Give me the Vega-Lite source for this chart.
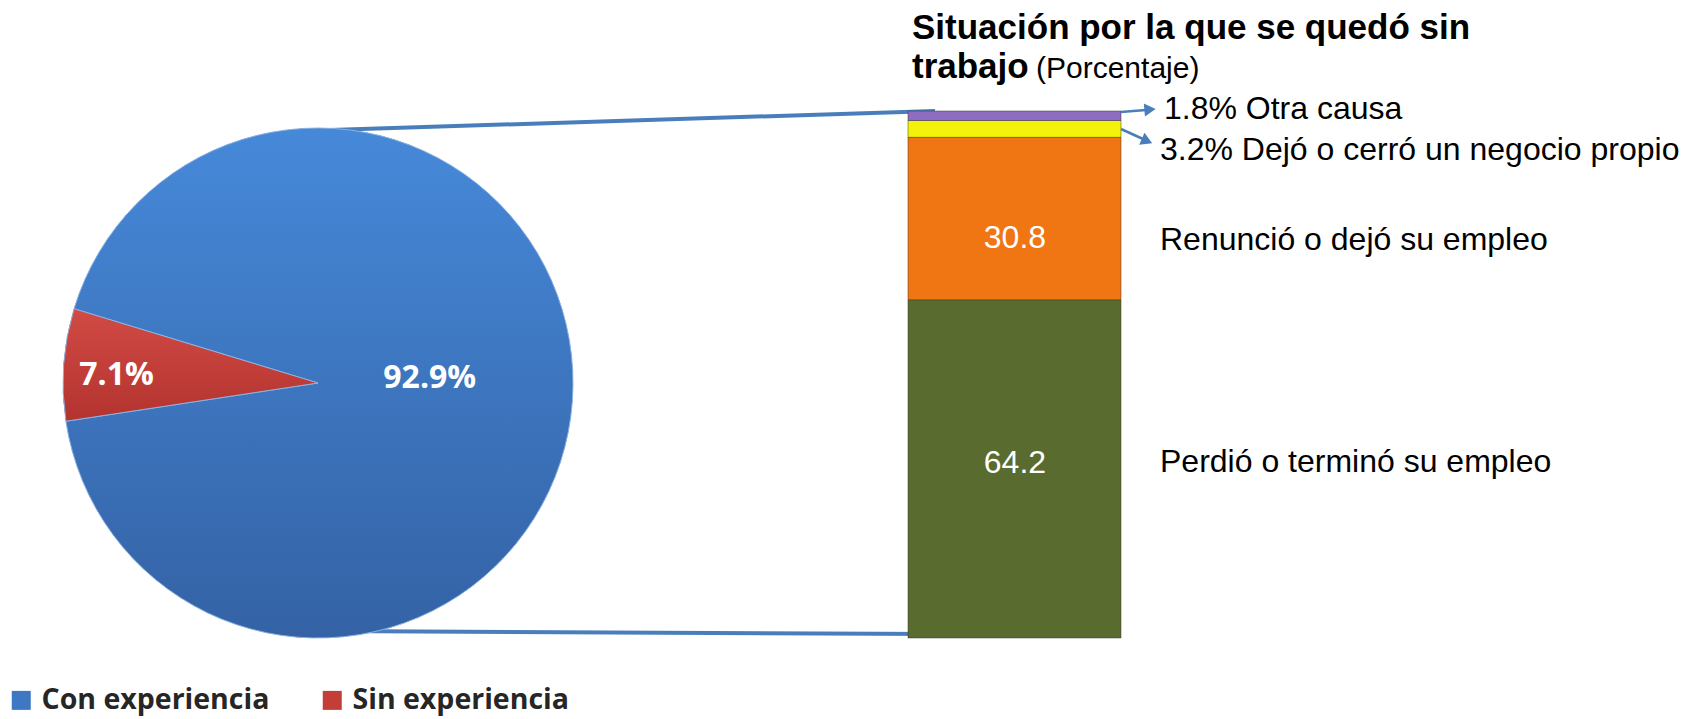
{
"$schema":"https://vega.github.io/schema/vega-lite/v6.json",
"width":1695,"height":719,"autosize":"none","padding":0,"background":"#ffffff",
"config":{"view":{"stroke":null}},
"datasets":{
 "pie":[
  {"condicion":"Con experiencia","pct":92.9,"etiqueta":"92.9%"},
  {"condicion":"Sin experiencia","pct":7.1,"etiqueta":"7.1%"}
 ],
 "causas":[
  {"causa":"Perdió o terminó su empleo","pct":64.2,"etiqueta":"Perdió o terminó su empleo"},
  {"causa":"Renunció o dejó su empleo","pct":30.8,"etiqueta":"Renunció o dejó su empleo"},
  {"causa":"Dejó o cerró un negocio propio","pct":3.2,"etiqueta":"3.2% Dejó o cerró un negocio propio"},
  {"causa":"Otra causa","pct":1.8,"etiqueta":"1.8% Otra causa"}
 ]
},
"layer":[
 {"data":{"values":[{}]},"mark":{"type":"rule","color":"#4A7EBB","strokeWidth":4},
  "encoding":{"x":{"datum":19.469,"type":"quantitative","scale":{"domain":[0,100],"nice":false,"zero":false},"axis":null},
   "y":{"datum":96.395,"type":"quantitative","scale":{"domain":[-15.37,121.063],"nice":false,"zero":false},"axis":null},
   "x2":{"datum":55.162},"y2":{"datum":100.0}}},
 {"data":{"values":[{}]},"mark":{"type":"rule","color":"#4A7EBB","strokeWidth":4},
  "encoding":{"x":{"datum":19.469,"type":"quantitative","scale":{"domain":[0,100],"nice":false,"zero":false},"axis":null},
   "y":{"datum":1.329,"type":"quantitative","scale":{"domain":[-15.37,121.063],"nice":false,"zero":false},"axis":null},
   "x2":{"datum":55.162},"y2":{"datum":0.759}}},
 {"data":{"name":"pie"},"mark":{"type":"arc","outerRadius":255},
  "encoding":{
   "x":{"datum":18.761,"type":"quantitative","scale":{"domain":[0,100],"nice":false,"zero":false},"axis":null},
   "y":{"datum":48.387,"type":"quantitative","scale":{"domain":[-15.37,121.063],"nice":false,"zero":false},"axis":null},
   "theta":{"field":"pct","type":"quantitative","stack":true,"scale":{"domain":[0,100],"range":[4.5618,10.845]}},
   "order":{"field":"pct","type":"quantitative","sort":"ascending"},
   "color":{"field":"condicion","type":"nominal","scale":{"domain":["Con experiencia","Sin experiencia"],"range":["#3E78C2","#C43E38"]},
    "legend":{"orient":"none","legendX":7,"legendY":686,"direction":"horizontal","title":null,"symbolType":"square","symbolSize":361,"symbolStrokeWidth":0,"labelFont":"Open Sans","labelFontWeight":"bold","labelFontSize":28.5,"labelColor":"#262626","columnPadding":48,"labelOffset":6,"labelLimit":0}}
  }},
 {"data":{"name":"pie"},"mark":{"type":"arc","outerRadius":255,"stroke":"#8DB3E2","strokeWidth":1},
  "encoding":{
   "x":{"datum":18.761,"type":"quantitative","scale":{"domain":[0,100],"nice":false,"zero":false},"axis":null},
   "y":{"datum":48.387,"type":"quantitative","scale":{"domain":[-15.37,121.063],"nice":false,"zero":false},"axis":null},
   "theta":{"field":"pct","type":"quantitative","stack":true,"scale":{"domain":[0,100],"range":[4.5618,10.845]}},
   "order":{"field":"pct","type":"quantitative","sort":"ascending"},
   "detail":{"field":"condicion"},
   "fill":{"condition":{"test":"datum.condicion === 'Sin experiencia'","value":{"gradient":"linear","x1":0,"y1":0,"x2":0,"y2":1,"stops":[{"offset":0,"color":"#D24B45"},{"offset":1,"color":"#B3332E"}]}},
    "value":{"gradient":"linear","x1":0,"y1":0,"x2":0,"y2":1,"stops":[{"offset":0,"color":"#4689D9"},{"offset":1,"color":"#3462A5"}]}}
  }},
 {"data":{"name":"pie"},"mark":{"type":"text","radius":202,"dy":7,"font":"Open Sans","fontWeight":"bold","fontSize":32,"color":"#ffffff","align":"center","baseline":"middle"},
  "encoding":{
   "x":{"datum":18.761,"type":"quantitative","scale":{"domain":[0,100],"nice":false,"zero":false},"axis":null},
   "y":{"datum":48.387,"type":"quantitative","scale":{"domain":[-15.37,121.063],"nice":false,"zero":false},"axis":null},
   "theta":{"field":"pct","type":"quantitative","stack":true,"scale":{"domain":[0,100],"range":[4.5618,10.845]}},
   "order":{"field":"pct","type":"quantitative","sort":"ascending"},
   "detail":{"field":"condicion"},
   "text":{"field":"etiqueta"},
   "opacity":{"condition":{"test":"datum.condicion === 'Sin experiencia'","value":1},"value":0}
  }},
 {"data":{"name":"pie"},"mark":{"type":"text","radius":112,"dy":-13,"font":"Open Sans","fontWeight":"bold","fontSize":32,"color":"#ffffff","align":"center","baseline":"middle"},
  "encoding":{
   "x":{"datum":18.761,"type":"quantitative","scale":{"domain":[0,100],"nice":false,"zero":false},"axis":null},
   "y":{"datum":48.387,"type":"quantitative","scale":{"domain":[-15.37,121.063],"nice":false,"zero":false},"axis":null},
   "theta":{"field":"pct","type":"quantitative","stack":true,"scale":{"domain":[0,100],"range":[4.5618,10.845]}},
   "order":{"field":"pct","type":"quantitative","sort":"ascending"},
   "detail":{"field":"condicion"},
   "text":{"field":"etiqueta"},
   "opacity":{"condition":{"test":"datum.condicion === 'Con experiencia'","value":1},"value":0}
  }},
 {"data":{"name":"causas"},
  "transform":[{"stack":"pct","groupby":[],"sort":[{"field":"pct","order":"descending"}],"as":["y0","y1"]}],
  "mark":{"type":"rect","stroke":"#333333","strokeWidth":0.8,"strokeOpacity":0.6},
  "encoding":{
   "x":{"datum":53.569,"type":"quantitative","scale":{"domain":[0,100],"nice":false,"zero":false},"axis":null},
   "x2":{"datum":66.136},
   "y":{"field":"y0","type":"quantitative","scale":{"domain":[-15.37,121.063],"nice":false,"zero":false},"axis":null},
   "y2":{"field":"y1"},
   "fill":{"field":"causa","type":"nominal","scale":{"domain":["Perdió o terminó su empleo","Renunció o dejó su empleo","Dejó o cerró un negocio propio","Otra causa"],"range":["#596B2E","#F07513","#F2F20A","#8E6CC0"]},"legend":null}
  }},
 {"data":{"name":"causas"},"mark":{"type":"text","dy":19.5,"font":"Liberation Sans","fontSize":32,"color":"#ffffff","align":"center","baseline":"middle"},
  "encoding":{
   "x":{"datum":59.88,"type":"quantitative","scale":{"domain":[0,100],"nice":false,"zero":false},"axis":null},
   "y":{"field":"pct","type":"quantitative","stack":"zero","bandPosition":0.5,"scale":{"domain":[-15.37,121.063],"nice":false,"zero":false},"axis":null},
   "order":{"field":"pct","type":"quantitative","sort":"descending"},
   "detail":{"field":"causa"},
   "text":{"field":"pct","type":"quantitative","format":".1f"},
   "opacity":{"condition":{"test":"datum.causa === 'Renunció o dejó su empleo'","value":1},"value":0}
  }},
 {"data":{"name":"causas"},"mark":{"type":"text","dy":-6,"font":"Liberation Sans","fontSize":32,"color":"#ffffff","align":"center","baseline":"middle"},
  "encoding":{
   "x":{"datum":59.88,"type":"quantitative","scale":{"domain":[0,100],"nice":false,"zero":false},"axis":null},
   "y":{"field":"pct","type":"quantitative","stack":"zero","bandPosition":0.5,"scale":{"domain":[-15.37,121.063],"nice":false,"zero":false},"axis":null},
   "order":{"field":"pct","type":"quantitative","sort":"descending"},
   "detail":{"field":"causa"},
   "text":{"field":"pct","type":"quantitative","format":".1f"},
   "opacity":{"condition":{"test":"datum.causa === 'Perdió o terminó su empleo'","value":1},"value":0}
  }},
 {"data":{"name":"causas"},"mark":{"type":"text","dy":-6.5,"font":"Liberation Sans","fontSize":32,"color":"#000000","align":"left","baseline":"middle"},
  "encoding":{
   "x":{"datum":68.437,"type":"quantitative","scale":{"domain":[0,100],"nice":false,"zero":false},"axis":null},
   "y":{"field":"pct","type":"quantitative","stack":"zero","bandPosition":0.5,"scale":{"domain":[-15.37,121.063],"nice":false,"zero":false},"axis":null},
   "order":{"field":"pct","type":"quantitative","sort":"descending"},
   "detail":{"field":"causa"},
   "text":{"field":"etiqueta"},
   "opacity":{"condition":{"test":"datum.causa === 'Perdió o terminó su empleo'","value":1},"value":0}
  }},
 {"data":{"name":"causas"},"mark":{"type":"text","dy":-6.5,"dx":4,"font":"Liberation Sans","fontSize":32,"color":"#000000","align":"left","baseline":"middle"},
  "encoding":{
   "x":{"datum":68.437,"type":"quantitative","scale":{"domain":[0,100],"nice":false,"zero":false},"axis":null},
   "y":{"field":"pct","type":"quantitative","stack":"zero","bandPosition":0.5,"scale":{"domain":[-15.37,121.063],"nice":false,"zero":false},"axis":null},
   "order":{"field":"pct","type":"quantitative","sort":"descending"},
   "detail":{"field":"causa"},
   "text":{"field":"etiqueta"},
   "opacity":{"condition":{"test":"datum.causa === 'Otra causa'","value":1},"value":0}
  }},
 {"data":{"name":"causas"},"mark":{"type":"text","dy":21,"font":"Liberation Sans","fontSize":32,"color":"#000000","align":"left","baseline":"middle"},
  "encoding":{
   "x":{"datum":68.437,"type":"quantitative","scale":{"domain":[0,100],"nice":false,"zero":false},"axis":null},
   "y":{"field":"pct","type":"quantitative","stack":"zero","bandPosition":0.5,"scale":{"domain":[-15.37,121.063],"nice":false,"zero":false},"axis":null},
   "order":{"field":"pct","type":"quantitative","sort":"descending"},
   "detail":{"field":"causa"},
   "text":{"field":"etiqueta"},
   "opacity":{"condition":{"test":"datum.causa === 'Renunció o dejó su empleo' || datum.causa === 'Dejó o cerró un negocio propio'","value":1},"value":0}
  }},
 {"data":{"values":[{}]},"mark":{"type":"rule","color":"#4A7EBB","strokeWidth":2.5},
  "encoding":{"x":{"datum":66.136,"type":"quantitative","scale":{"domain":[0,100],"nice":false,"zero":false},"axis":null},
   "y":{"datum":99.811,"type":"quantitative","scale":{"domain":[-15.37,121.063],"nice":false,"zero":false},"axis":null},
   "x2":{"datum":67.611},"y2":{"datum":100.19}}},
 {"data":{"values":[{}]},"mark":{"type":"rule","color":"#4A7EBB","strokeWidth":2.5},
  "encoding":{"x":{"datum":66.136,"type":"quantitative","scale":{"domain":[0,100],"nice":false,"zero":false},"axis":null},
   "y":{"datum":96.585,"type":"quantitative","scale":{"domain":[-15.37,121.063],"nice":false,"zero":false},"axis":null},
   "x2":{"datum":67.434},"y2":{"datum":94.687}}},
 {"data":{"values":[{}]},"mark":{"type":"point","shape":"triangle-right","filled":true,"size":170,"angle":-5,"color":"#4A7EBB","opacity":1},
  "encoding":{"x":{"datum":67.847,"type":"quantitative","scale":{"domain":[0,100],"nice":false,"zero":false},"axis":null},
   "y":{"datum":100.266,"type":"quantitative","scale":{"domain":[-15.37,121.063],"nice":false,"zero":false},"axis":null}}},
 {"data":{"values":[{}]},"mark":{"type":"point","shape":"triangle-right","filled":true,"size":170,"angle":24,"color":"#4A7EBB","opacity":1},
  "encoding":{"x":{"datum":67.67,"type":"quantitative","scale":{"domain":[0,100],"nice":false,"zero":false},"axis":null},
   "y":{"datum":94.307,"type":"quantitative","scale":{"domain":[-15.37,121.063],"nice":false,"zero":false},"axis":null}}},
 {"data":{"values":[{}]},"mark":{"type":"text","text":"Situación por la que se quedó sin","font":"Liberation Sans","fontWeight":"bold","fontSize":35,"color":"#000000","align":"left","baseline":"alphabetic"},
  "encoding":{"x":{"datum":53.805,"type":"quantitative","scale":{"domain":[0,100],"nice":false,"zero":false},"axis":null},
   "y":{"datum":113.663,"type":"quantitative","scale":{"domain":[-15.37,121.063],"nice":false,"zero":false},"axis":null}}},
 {"data":{"values":[{}]},"mark":{"type":"text","text":"trabajo","font":"Liberation Sans","fontWeight":"bold","fontSize":35,"color":"#000000","align":"left","baseline":"alphabetic"},
  "encoding":{"x":{"datum":53.805,"type":"quantitative","scale":{"domain":[0,100],"nice":false,"zero":false},"axis":null},
   "y":{"datum":106.262,"type":"quantitative","scale":{"domain":[-15.37,121.063],"nice":false,"zero":false},"axis":null}}},
 {"data":{"values":[{}]},"mark":{"type":"text","text":"(Porcentaje)","font":"Liberation Sans","fontSize":30,"color":"#000000","align":"left","baseline":"alphabetic"},
  "encoding":{"x":{"datum":61.121,"type":"quantitative","scale":{"domain":[0,100],"nice":false,"zero":false},"axis":null},
   "y":{"datum":106.262,"type":"quantitative","scale":{"domain":[-15.37,121.063],"nice":false,"zero":false},"axis":null}}}
]
}
